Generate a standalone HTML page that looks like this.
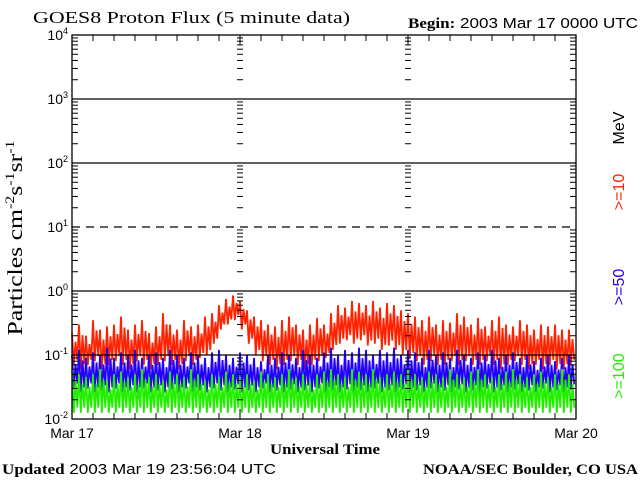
<!DOCTYPE html>
<html><head><meta charset="utf-8"><style>
html,body{margin:0;padding:0;background:#fff;}
svg{display:block;}
.s{font-family:"Liberation Sans",sans-serif;}
.r{font-family:"Liberation Serif",serif;}
</style></head><body>
<svg id="chart" width="640" height="480" viewBox="0 0 640 480" xmlns="http://www.w3.org/2000/svg">
<rect x="0" y="0" width="640" height="480" fill="#fff"/>
<text x="33" y="23" class="r" font-size="17" textLength="317" lengthAdjust="spacingAndGlyphs">GOES8 Proton Flux (5 minute data)</text>
<text x="408" y="28" font-size="15" textLength="230" lengthAdjust="spacingAndGlyphs"><tspan class="r" font-weight="bold">Begin:</tspan><tspan class="s"> 2003 Mar 17 0000 UTC</tspan></text>
<g id="data"></g>
<g id="grid"></g>
<g id="axes"></g>
<text transform="translate(22,238) rotate(-90)" text-anchor="middle" class="r" font-size="21" textLength="195" lengthAdjust="spacingAndGlyphs">Particles cm<tspan dy="-8" font-size="13">-2</tspan><tspan dy="8">s</tspan><tspan dy="-8" font-size="13">-1</tspan><tspan dy="8">sr</tspan><tspan dy="-8" font-size="13">-1</tspan></text>
<text x="325" y="454" text-anchor="middle" class="r" font-weight="bold" font-size="15" textLength="110" lengthAdjust="spacingAndGlyphs">Universal Time</text>
<text transform="translate(624,128) rotate(-90)" text-anchor="middle" class="s" font-size="16" fill="#000">MeV</text>
<text transform="translate(624,192) rotate(-90)" text-anchor="middle" class="s" font-size="16" fill="#ff2200">&gt;=10</text>
<text transform="translate(624,287) rotate(-90)" text-anchor="middle" class="s" font-size="16" fill="#2200ff">&gt;=50</text>
<text transform="translate(624,376) rotate(-90)" text-anchor="middle" class="s" font-size="16" fill="#22ee00">&gt;=100</text>
<text x="2" y="474" font-size="15" textLength="274" lengthAdjust="spacingAndGlyphs"><tspan class="r" font-weight="bold">Updated</tspan><tspan class="s"> 2003 Mar 19 23:56:04 UTC</tspan></text>
<text x="423" y="474" class="r" font-weight="bold" font-size="15" textLength="215" lengthAdjust="spacingAndGlyphs">NOAA/SEC Boulder, CO USA</text>
</svg>
<script>
const dayLabels = ["Mar 17","Mar 18","Mar 19","Mar 20"];
const yTickExps = [-2,-1,0,1,2,3,4];
const redHi = [0.22,0.30,0.20,0.35,0.25,0.28,0.30,0.40,0.25,0.30,0.35,0.22,0.28,0.45,0.30,0.25,0.35,0.28,0.30,0.40,0.45,0.60,0.75,0.85,
0.70,0.50,0.40,0.35,0.30,0.28,0.35,0.40,0.30,0.25,0.30,0.38,0.30,0.45,0.60,0.55,0.70,0.65,0.60,0.70,0.55,0.65,0.60,0.50,
0.45,0.40,0.35,0.40,0.30,0.35,0.32,0.45,0.40,0.30,0.38,0.28,0.35,0.40,0.30,0.28,0.35,0.30,0.25,0.30,0.28,0.30,0.25,0.25];
const redLo = [0.07,0.06,0.07,0.08,0.06,0.07,0.08,0.07,0.06,0.08,0.07,0.06,0.07,0.08,0.07,0.06,0.08,0.07,0.09,0.10,0.15,0.25,0.30,0.35,
0.25,0.15,0.10,0.08,0.07,0.06,0.07,0.08,0.07,0.06,0.07,0.08,0.09,0.12,0.15,0.17,0.15,0.17,0.14,0.15,0.12,0.14,0.12,0.10,
0.09,0.08,0.07,0.08,0.07,0.07,0.08,0.07,0.08,0.07,0.07,0.08,0.07,0.06,0.07,0.08,0.07,0.06,0.07,0.06,0.07,0.06,0.06,0.07];
const blueHi = [0.10,0.12,0.09,0.11,0.10,0.13,0.09,0.11,0.10,0.12,0.09,0.10,0.11,0.09,0.12,0.10,0.09,0.11,0.10,0.09,0.11,0.12,0.10,0.09,
0.11,0.10,0.09,0.08,0.10,0.09,0.11,0.10,0.09,0.12,0.10,0.09,0.11,0.13,0.10,0.12,0.11,0.13,0.12,0.10,0.12,0.11,0.13,0.10,
0.12,0.11,0.09,0.12,0.10,0.11,0.09,0.12,0.10,0.09,0.11,0.10,0.12,0.09,0.10,0.11,0.09,0.10,0.08,0.09,0.10,0.08,0.09,0.10];
const blueLo = [0.030,0.026,0.030,0.026,0.028,0.026,0.030,0.026,0.028,0.026,0.030,0.026,0.028,0.026,0.029,0.026,0.030,0.026,0.028,0.026,0.030,0.028,0.026,0.029,
0.026,0.028,0.026,0.030,0.026,0.028,0.026,0.029,0.026,0.028,0.026,0.030,0.026,0.028,0.026,0.029,0.026,0.028,0.026,0.030,0.026,0.028,0.026,0.029,
0.026,0.028,0.026,0.030,0.026,0.028,0.026,0.029,0.026,0.028,0.026,0.030,0.026,0.028,0.026,0.029,0.026,0.028,0.026,0.030,0.026,0.028,0.026,0.029];
const greenHi = [0.06,0.05,0.045,0.05,0.06,0.04,0.05,0.055,0.045,0.05,0.06,0.045,0.05,0.04,0.055,0.05,0.045,0.06,0.05,0.04,0.05,0.045,0.055,0.05,
0.045,0.05,0.04,0.055,0.05,0.045,0.05,0.06,0.045,0.05,0.04,0.05,0.055,0.06,0.05,0.045,0.06,0.055,0.05,0.06,0.045,0.05,0.055,0.05,
0.06,0.05,0.045,0.055,0.05,0.045,0.06,0.05,0.045,0.055,0.06,0.05,0.045,0.05,0.055,0.06,0.05,0.045,0.05,0.055,0.045,0.05,0.06,0.05];
const greenLo = [0.0125,0.0125,0.0125,0.0125,0.0125,0.0125,0.0125,0.0125,0.0125,0.0125,0.0125,0.0125,0.0125,0.0125,0.0125,0.0125,0.0125,0.0125,0.0125,0.0125,0.0125,0.0125,0.0125,0.0125,
0.0125,0.0125,0.0125,0.0125,0.0125,0.0125,0.0125,0.0125,0.0125,0.0125,0.0125,0.0125,0.0125,0.0125,0.0125,0.0125,0.0125,0.0125,0.0125,0.0125,0.0125,0.0125,0.0125,0.0125,
0.0125,0.0125,0.0125,0.0125,0.0125,0.0125,0.0125,0.0125,0.0125,0.0125,0.0125,0.0125,0.0125,0.0125,0.0125,0.0125,0.0125,0.0125,0.0125,0.0125,0.0125,0.0125,0.0125,0.0125];

const NS='http://www.w3.org/2000/svg';
const X0=72,X1=576,Y0=419,Y1=35;
function xs(h){return X0+(X1-X0)*h/72;}
function ys(v){return Y0-(Math.log10(v)+2)*(Y0-Y1)/6;}
function mk(tag,attrs,parent){const e=document.createElementNS(NS,tag);for(const k in attrs)e.setAttribute(k,attrs[k]);parent.appendChild(e);return e;}

const dataG=document.getElementById('data');
function drawSeries(hi,lo,color,name){
  let pts=[];
  for(let i=0;i<hi.length;i++){
    const sub=[hi[i],lo[i],hi[i]*0.6+lo[i]*0.4,lo[i]*1.2];
    for(let k=0;k<sub.length;k++){
      pts.push(xs(i+k/sub.length).toFixed(1)+','+ys(sub[k]).toFixed(1));
    }
  }
  const p=mk('polyline',{points:pts.join(' '),fill:'none',stroke:color,'stroke-width':'1.8'},dataG);
  
  
}
drawSeries(redHi,redLo,'#ff2200','series-10mev');
drawSeries(blueHi,blueLo,'#2200ff','series-50mev');
drawSeries(greenHi,greenLo,'#22ee00','series-100mev');

const gridG=document.getElementById('grid');
for(const e of [-1,0,1,2,3]){
  const l=mk('line',{x1:X0,x2:X1,y1:ys(Math.pow(10,e)),y2:ys(Math.pow(10,e)),stroke:'#000','stroke-width':'1.3'},gridG);
  if(e===1)l.setAttribute('stroke-dasharray','8,6');
  
  
}

const axG=document.getElementById('axes');
const frame=mk('rect',{x:X0,y:Y1,width:X1-X0,height:Y0-Y1,fill:'none',stroke:'#000','stroke-width':'1.3'},axG);


for(let e=-2;e<4;e++){
  for(let m=2;m<=9;m++){
    const y=ys(m*Math.pow(10,e));
    mk('line',{x1:X0,x2:X0+6,y1:y,y2:y,stroke:'#000'},axG);
    mk('line',{x1:X1-6,x2:X1,y1:y,y2:y,stroke:'#000'},axG);
    for(const d of [1,2]){const xc=xs(24*d);mk('line',{x1:xc-3,x2:xc+3,y1:y,y2:y,stroke:'#000'},axG);}
  }
}
for(const e of yTickExps){
  const y=ys(Math.pow(10,e));
  const t=mk('text',{x:X0-4,y:y+5,'text-anchor':'end','font-size':'14',class:'s'},axG);
  t.innerHTML='10<tspan dy="-6" font-size="9">'+e+'</tspan>';
  
  
}
for(let h=3;h<72;h+=3){
  const x=xs(h);const len=(h%24===0)?10:6;
  mk('line',{x1:x,x2:x,y1:Y0,y2:Y0-len,stroke:'#000'},axG);
  mk('line',{x1:x,x2:x,y1:Y1,y2:Y1+len,stroke:'#000'},axG);
}
dayLabels.forEach((lab,i)=>{
  const t=mk('text',{x:xs(24*i),y:438,'text-anchor':'middle','font-size':'14',class:'s'},axG);
  t.textContent=lab;
  
  
});
</script>
</body></html>
